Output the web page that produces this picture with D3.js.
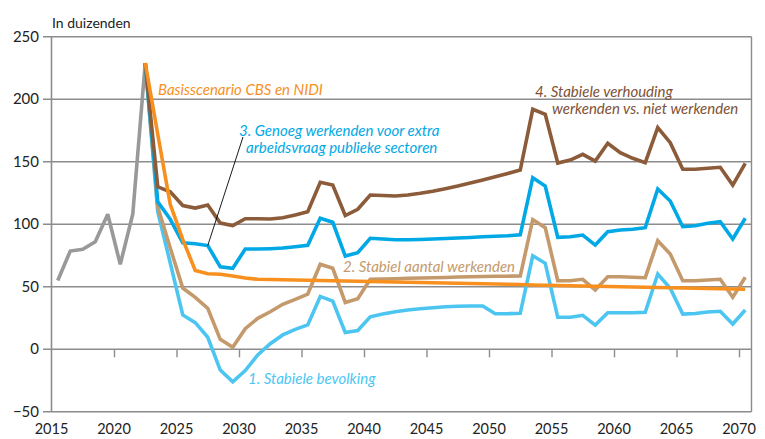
<!DOCTYPE html>
<html>
<head>
<meta charset="utf-8">
<script src="https://cdn.jsdelivr.net/npm/d3@7"></script>
<style>
  body { margin: 0; background: #fff; }
  svg text { font-family: Lato, "Noto Sans", sans-serif; }
</style>
</head>
<body>
<div id="chart"></div>
<script>
// historische reeks 2015-2022
var histYears = [2015, 2016, 2017, 2018, 2019, 2020, 2021, 2022];
var historie = [55, 78.6, 80, 86, 108, 68, 108, 229];

// scenario's 2022-2070
var scenYears = d3.range(2022, 2071);
var basis = [229, 172, 116, 88, 63, 60.5, 60, 58.6, 57, 56, 55.8, 55.6, 55.4, 55.2, 55, 54.8, 54.6, 54.4, 54.2, 54,
  53.8, 53.6, 53.4, 53.2, 53, 52.8, 52.6, 52.4, 52.2, 52, 51.8, 51.5, 51.2, 51, 50.8, 50.6, 50.4, 50.2, 50, 49.8,
  49.6, 49.4, 49.2, 49, 48.8, 48.6, 48.4, 48.2, 48];
var stabieleBevolking = [229, 110, 69, 27.5, 21.3, 9.6, -16.6, -26, -17, -4.5, 4.5, 11.5, 16, 19.5, 42.3, 38.5, 13.5, 15, 26, 28.2,
  30, 31.5, 32.5, 33.3, 34, 34.4, 34.6, 34.6, 28.5, 28.5, 28.8, 74.8, 68.8, 25.6, 25.6, 27.2, 19.4, 29.3, 29.3, 29.3,
  29.6, 60.2, 48.8, 28.2, 28.6, 29.8, 30.4, 20.2, 31.4];
var stabielAantal = [229, 114, 81, 49, 41.6, 32.8, 8, 1.6, 16.5, 24.8, 30, 36, 40, 44.2, 68, 64.8, 37.5, 40.5, 56, 56.2,
  56.5, 56.8, 57, 57.3, 57.5, 57.8, 58, 58.2, 58.4, 58.5, 58.6, 103.8, 97.3, 54.9, 54.9, 56, 47.4, 58.1, 58.1, 57.6,
  57.3, 86.9, 76.2, 54.9, 54.9, 55.4, 56, 41.6, 57.6];
var genoegWerkenden = [229, 118, 104, 85.3, 84.5, 83, 66, 64.8, 80.2, 80.2, 80.5, 81, 82, 83.2, 104.8, 101.6, 74.6, 77.3, 88.8, 88.2,
  87.6, 87.6, 87.8, 88.2, 88.6, 89, 89.5, 90, 90.4, 90.8, 91.6, 137.3, 130.6, 89.6, 90.1, 91.4, 83.4, 94.1, 95.4, 96,
  97.3, 128.2, 118.6, 98.1, 98.9, 100.8, 102.1, 88.2, 104.8];
var stabieleVerhouding = [229, 130, 126, 115, 113, 115.5, 101, 99, 104.5, 104.5, 104.2, 105.3, 107.4, 110, 133.6, 131.4, 107, 112, 123.4, 123,
  122.6, 123.5, 124.8, 126.4, 128.5, 130.6, 133, 135.5, 138, 140.6, 143.4, 192, 188, 149, 151.4, 156, 150.6, 164.8, 157.3, 152.8,
  149.3, 177.3, 165.3, 144, 144, 144.8, 145.6, 131.4, 148.8];

var yTicks = [-50, 0, 50, 100, 150, 200, 250];
var xTicks = [2015, 2020, 2025, 2030, 2035, 2040, 2045, 2050, 2055, 2060, 2065, 2070];

var width = 765, height = 439;
var svg = d3.select("#chart").append("svg")
    .attr("width", width)
    .attr("height", height);

var xScale = d3.scaleLinear().domain([2015, 2071]).range([51.5, 751.5]);
var yScale = d3.scaleLinear().domain([-50, 250]).range([411.8, 36.8]);

var grid = "#8c8c8c";

// gridlijnen met tick links
svg.append("g").selectAll("line")
    .data(yTicks)
    .enter().append("line")
    .attr("x1", 43)
    .attr("x2", xScale(2071))
    .attr("y1", function (d) { return yScale(d); })
    .attr("y2", function (d) { return yScale(d); })
    .attr("stroke", grid)
    .attr("stroke-width", 1.4);

svg.append("g").selectAll("text")
    .data(yTicks)
    .enter().append("text")
    .attr("x", 39)
    .attr("y", function (d) { return yScale(d) + 5; })
    .attr("text-anchor", "end")
    .attr("font-size", 15)
    .attr("fill", "#222")
    .text(function (d) { return d < 0 ? "\u2212" + Math.abs(d) : d; });

// assen links en rechts
svg.append("line")
    .attr("x1", xScale(2015)).attr("x2", xScale(2015))
    .attr("y1", yScale(250)).attr("y2", yScale(-50))
    .attr("stroke", grid).attr("stroke-width", 1.6);
svg.append("line")
    .attr("x1", xScale(2071)).attr("x2", xScale(2071))
    .attr("y1", yScale(250)).attr("y2", yScale(-50))
    .attr("stroke", grid).attr("stroke-width", 1.4);

// x ticks op de nullijn
svg.append("g")
    .attr("transform", "translate(0," + yScale(0) + ")")
    .call(d3.axisBottom(xScale).tickValues(xTicks.slice(1)).tickSize(8).tickFormat(""))
    .call(function (g) { g.select(".domain").remove(); })
    .call(function (g) { g.selectAll(".tick line").attr("stroke", grid).attr("stroke-width", 1.4); });

svg.append("g").selectAll("text")
    .data(xTicks)
    .enter().append("text")
    .attr("x", function (d) { return xScale(d); })
    .attr("y", 434)
    .attr("text-anchor", "middle")
    .attr("font-size", 14.5)
    .attr("fill", "#222")
    .text(function (d) { return d; });

svg.append("text")
    .attr("x", 52)
    .attr("y", 28)
    .attr("font-size", 14)
    .attr("fill", "#222")
    .text("In duizenden");

// lijnen
var line = d3.line()
    .x(function (d) { return xScale(d[0] + 0.5); })
    .y(function (d) { return yScale(d[1]); });

function pairs(years, vals) {
    return years.map(function (y, i) { return [y, vals[i]]; });
}

var series = [
    { data: pairs(histYears, historie), color: "#999999" },
    { data: pairs(scenYears, stabieleBevolking), color: "#4cc6f1" },
    { data: pairs(scenYears, stabielAantal), color: "#c49a6c" },
    { data: pairs(scenYears, genoegWerkenden), color: "#00a9e6" },
    { data: pairs(scenYears, stabieleVerhouding), color: "#8b5b3a" },
    { data: pairs(scenYears, basis), color: "#f7901e" }
];

svg.append("g").selectAll("path")
    .data(series)
    .enter().append("path")
    .attr("d", function (d) { return line(d.data); })
    .attr("fill", "none")
    .attr("stroke", function (d) { return d.color; })
    .attr("stroke-width", 3.6)
    .attr("stroke-linejoin", "miter")
    .attr("stroke-miterlimit", 3);

// aanwijslijn naar reeks 3
svg.append("line")
    .attr("x1", 243).attr("y1", 137)
    .attr("x2", xScale(2027.5)).attr("y2", yScale(83))
    .attr("stroke", "#000").attr("stroke-width", 0.9);

// labels
var labels = [
    { lines: ["Basisscenario CBS en NIDI"], x: [158], y: 95, color: "#f7901e" },
    { lines: ["3. Genoeg werkenden voor extra", "arbeidsvraag publieke sectoren"], x: [239, 246], y: 136, color: "#00a9e6" },
    { lines: ["4. Stabiele verhouding", "werkenden vs. niet werkenden"], x: [535, 552], y: 97, color: "#7d5235" },
    { lines: ["2. Stabiel aantal werkenden"], x: [343], y: 272, color: "#c49a6c" },
    { lines: ["1. Stabiele bevolking"], x: [248], y: 384, color: "#4cc6f1" }
];

labels.forEach(function (l) {
    l.lines.forEach(function (t, i) {
        svg.append("text")
            .attr("x", l.x[i])
            .attr("y", l.y + i * 17)
            .attr("font-size", 15)
            .attr("font-style", "italic")
            .attr("fill", l.color)
            .text(t);
    });
});
</script>
</body>
</html>
